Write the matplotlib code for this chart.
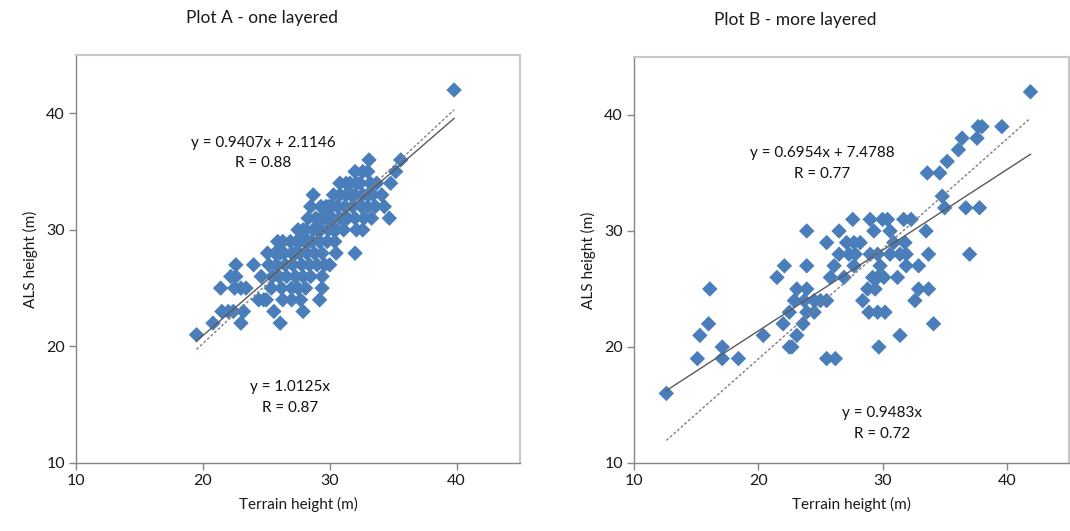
import numpy as np
import matplotlib
matplotlib.use("Agg")
import matplotlib.pyplot as plt

plt.rcParams['font.family'] = ['Lato', 'DejaVu Sans']

# Plot A - one layered: ALS heights are whole metres, terrain heights per row
a_rows = {
    42: [39.8],
    36: [33.1, 35.6],
    35: [32.0, 32.6, 33.0, 35.2],
    34: [30.8, 31.3, 31.6, 32.1, 32.4, 33.2, 33.7, 34.8],
    33: [28.7, 30.3, 30.8, 31.3, 31.7, 32.0, 32.6, 33.0, 33.4, 34.1],
    32: [28.5, 29.3, 29.7, 29.9, 30.1, 30.6, 31.2, 31.8, 32.5, 33.0, 33.6, 34.3],
    31: [28.3, 28.9, 29.3, 29.6, 29.9, 30.2, 30.8, 31.1, 31.4, 32.0, 32.7, 33.3, 34.7],
    30: [27.5, 27.9, 28.1, 28.7, 29.0, 29.3, 29.9, 30.3, 30.5, 31.1, 32.1, 32.6],
    29: [25.9, 26.3, 26.9, 27.4, 27.6, 28.0, 28.3, 28.6, 29.2, 29.8, 30.4],
    28: [25.1, 25.7, 26.1, 26.4, 27.0, 27.3, 27.6, 28.2, 28.8, 29.4, 30.5, 32.0],
    27: [22.6, 24.0, 25.2, 25.8, 26.5, 27.1, 27.8, 28.4, 29.0, 29.6, 30.0],
    26: [22.2, 22.6, 24.6, 25.5, 26.0, 26.6, 27.3, 27.9, 28.5, 29.4],
    25: [21.4, 22.5, 23.0, 23.4, 25.4, 26.2, 27.0, 27.5, 28.1, 29.4],
    24: [24.4, 24.8, 25.0, 26.3, 27.0, 27.7, 29.2],
    23: [21.5, 22.0, 22.4, 23.2, 25.6, 27.9],
    22: [20.8, 23.0, 26.1],
    21: [19.5],
}

# Plot B - more layered
b_rows = {
    42: [41.9],
    39: [37.7, 38.0, 39.6],
    38: [36.4, 37.6],
    37: [36.1],
    36: [35.2],
    35: [33.6, 34.6],
    33: [34.8],
    32: [35.0, 36.7, 37.8],
    31: [27.6, 29.0, 30.0, 30.4, 31.7, 32.3],
    30: [23.9, 26.5, 29.3, 30.6, 33.5],
    29: [25.5, 27.1, 27.7, 28.2, 30.9, 31.8],
    28: [26.5, 27.3, 27.8, 29.0, 29.6, 30.6, 31.4, 31.9, 33.7, 37.0],
    27: [22.1, 23.9, 26.1, 27.7, 29.8, 31.9, 32.9],
    26: [21.5, 25.8, 26.9, 29.2, 29.6, 30.1, 31.2],
    25: [16.1, 23.1, 23.9, 28.8, 29.4, 32.9, 33.7],
    24: [22.9, 23.7, 24.5, 25.0, 25.5, 28.4, 32.6],
    23: [22.5, 23.9, 24.5, 28.9, 29.6, 30.2],
    22: [16.0, 22.0, 23.6, 34.1],
    21: [15.3, 20.4, 23.1, 31.4],
    20: [17.1, 22.5, 22.7, 29.7],
    19: [15.1, 17.1, 18.4, 25.5, 26.2],
    16: [12.6],
}

a_fit = (0.9407, 2.1146)
a_origin = 1.0125
b_fit = (0.6954, 7.4788)
b_origin = 0.9483

a_labels = ["y = 0.9407x + 2.1146\nR = 0.88", "y = 1.0125x\nR = 0.87"]
b_labels = ["y = 0.6954x + 7.4788\nR = 0.77", "y = 0.9483x\nR = 0.72"]

ticks = [10, 20, 30, 40]
blue = '#4A7EBB'


def unpack(rows):
    xs, ys = [], []
    for y, xlist in rows.items():
        for x in xlist:
            xs.append(x)
            ys.append(y)
    return np.array(xs), np.array(ys)


def draw_panel(ax, rows, fit, origin, labels, label_pos):
    x, y = unpack(rows)
    ax.scatter(x, y, marker='D', s=62, color=blue, edgecolors='none', zorder=2)

    xl = np.array([x.min(), x.max()])
    ax.plot(xl, fit[0] * xl + fit[1], color='#5A5A5A', lw=1.0, zorder=3)
    ax.plot(xl, origin * xl, color='#7F7F7F', lw=1.0, ls=(0, (2, 1.5)), zorder=3)

    ax.set_xlim(10, 45)
    ax.set_ylim(10, 45)
    ax.set_xticks(ticks)
    ax.set_yticks(ticks)
    ax.tick_params(direction='out', length=5, width=1, color='#868686',
                   labelsize=11.5, labelcolor='#1A1A1A', pad=3)

    for side in ['top', 'right']:
        ax.spines[side].set_color('#C8C8C8')
        ax.spines[side].set_linewidth(1.5)
    for side in ['left', 'bottom']:
        ax.spines[side].set_color('#868686')
        ax.spines[side].set_linewidth(1.0)

    ax.set_xlabel("Terrain height (m)", fontsize=11, color='#1A1A1A', labelpad=6)
    ax.set_ylabel("ALS height (m)", fontsize=11, color='#1A1A1A', labelpad=6)

    for text, (tx, ty) in zip(labels, label_pos):
        ax.text(tx, ty, text, transform=ax.transAxes, ha='center', va='center',
                fontsize=11, color='#111111', linespacing=1.6)


fig = plt.figure(figsize=(10.7, 5.31), dpi=100)

ax1 = fig.add_axes([76 / 1070, 68 / 531, 444 / 1070, 408 / 531])
draw_panel(ax1, a_rows, a_fit, a_origin, a_labels, [(0.421, 0.760), (0.482, 0.160)])

ax2 = fig.add_axes([634 / 1070, 68 / 531, 435 / 1070, 406 / 531])
draw_panel(ax2, b_rows, b_fit, b_origin, b_labels, [(0.432, 0.737), (0.570, 0.097)])

fig.text(262 / 1070, 1 - 18 / 531, "Plot A - one layered", ha='center', va='center',
         fontsize=12.5, color='#1A1A1A')
fig.text(795 / 1070, 1 - 20 / 531, "Plot B - more layered", ha='center', va='center',
         fontsize=12.5, color='#1A1A1A')

fig.savefig("out.png", dpi=100)
